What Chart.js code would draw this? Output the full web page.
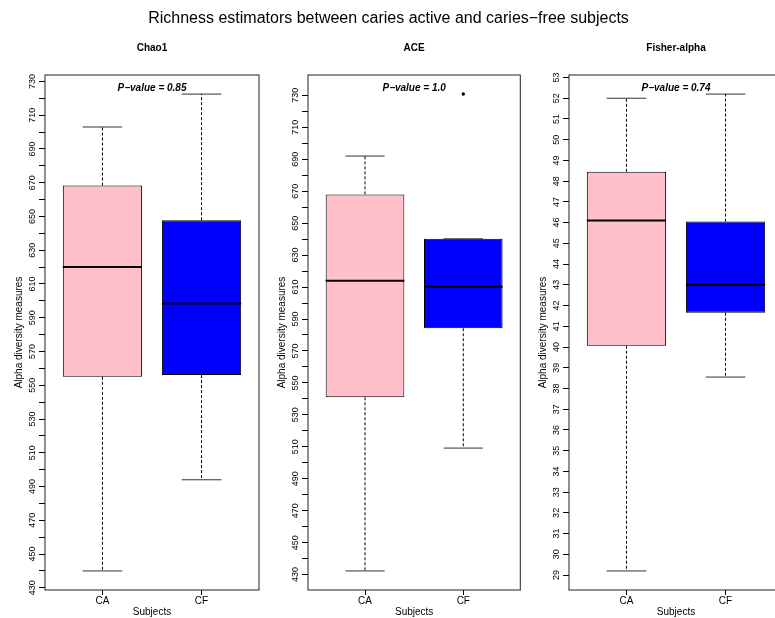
<!DOCTYPE html>
<html>
<head>
<meta charset="utf-8">
<script src="https://cdn.jsdelivr.net/npm/chart.js@4.4.1/dist/chart.umd.min.js"></script>
<style>
  html, body { margin:0; padding:0; overflow:hidden; background:#fff; width:775px; height:618px; }
  #wrap { position:relative; width:775px; height:618px; overflow:hidden; }
  #mainTitle { position:absolute; left:0; top:8px; width:777px; text-align:center; font:16px "Liberation Sans", Arial, Helvetica, sans-serif; line-height:20px; color:#000; z-index:2; }
  canvas { position:absolute; top:0; }
</style>
</head>
<body>
<div id="wrap">
  <div id="mainTitle">Richness estimators between caries active and caries−free subjects</div>
  <canvas id="c1" width="260" height="618" style="left:0px;width:260px;height:618px"></canvas>
  <canvas id="c2" width="259" height="618" style="left:263px;width:259px;height:618px"></canvas>
  <canvas id="c3" width="260" height="618" style="left:524px;width:260px;height:618px"></canvas>
</div>
<script>
// ---------------- data ----------------
const groups = ["CA", "CF"];
const panelTitles = ["Chao1", "ACE", "Fisher-alpha"];
const pValues = ["0.85", "1.0", "0.74"];
const xTitle = "Subjects";
const yTitle = "Alpha diversity measures";

// Chao1 (lower whisker, Q1, median, Q3, upper whisker) per group
const chao1Low    = [440, 494];
const chao1Q1     = [555, 556];
const chao1Median = [620, 598.5];
const chao1Q3     = [668.3, 647.8];
const chao1High   = [703, 722.5];
const chao1Outliers = [[], []];

// ACE
const aceLow    = [432.3, 509.2];
const aceQ1     = [541, 584.2];
const aceMedian = [614, 610.2];
const aceQ3     = [668, 640.2];
const aceHigh   = [692, 640.2];
const aceOutliers = [[], [730.8]];

// Fisher-alpha
const fisherLow    = [29.2, 38.55];
const fisherQ1     = [40.06, 41.65];
const fisherMedian = [46.1, 43.0];
const fisherQ3     = [48.45, 46.05];
const fisherHigh   = [52.0, 52.2];
const fisherOutliers = [[], []];

// tick values / labels
const richLabeledTicks = [430,450,470,490,510,530,550,570,590,610,630,650,670,690,710,730];
const richMinorTicks   = [440,460,480,500,520,540,560,580,600,620,640,660,680,700,720];
const fisherLabeledTicks = [29,30,31,32,33,34,35,36,37,38,39,40,41,42,43,44,45,46,47,48,49,50,51,52,53];
const fisherMinorTicks = [];

const boxColors = ["#FFC0CB", "#0000FF"];
// -------------------------------------

const FAMILY = '"Liberation Sans", Arial, Helvetica, sans-serif';
Chart.defaults.font.family = FAMILY;
Chart.defaults.color = '#000';

const framePlugin = {
  id: 'frame',
  afterDraw(chart, args, opts) {
    const {ctx, chartArea: a} = chart;
    ctx.save();
    ctx.strokeStyle = '#222';
    ctx.lineWidth = 1;
    ctx.strokeRect(a.left, a.top, a.right - a.left, a.bottom - a.top);
    ctx.font = 'italic bold 10px ' + FAMILY;
    ctx.fillStyle = '#000';
    ctx.textAlign = 'center';
    ctx.textBaseline = 'middle';
    ctx.fillText('P\u2212value = ' + opts.p, (a.left + a.right) / 2, a.top + 13);
    ctx.restore();
  }
};

function measure(text, font) {
  const c = document.createElement('canvas').getContext('2d');
  c.font = font;
  return c.measureText(text).width;
}

function makePanel(id, title, p, low, q1, med, q3, high, outliers, majors, minors) {
  const all = [].concat(low, high, ...outliers);
  const lo = Math.min(...all), hi = Math.max(...all);
  const ext = 0.04 * (hi - lo);
  const tickFontSize = 9;
  const widest = Math.max(...majors.map(v => measure(String(v), tickFontSize + 'px ' + FAMILY)));
  const tickLen = 6;
  const labelPad = 12 - tickLen - widest / 2;

  const seg = (pts, extra) => Object.assign({
    type: 'line', data: pts, pointRadius: 0, pointHoverRadius: 0,
    borderColor: '#000', borderWidth: 1, fill: false, tension: 0, order: 0
  }, extra || {});

  const datasets = [];
  datasets.push({
    type: 'bar',
    data: groups.map((g, i) => ({x: i + 1, y: [q1[i], q3[i]]})),
    backgroundColor: boxColors,
    borderColor: '#000',
    borderWidth: 1,
    borderSkipped: false,
    barPercentage: 1,
    categoryPercentage: 0.8,
    order: 2
  });
  groups.forEach((g, i) => {
    const x = i + 1;
    datasets.push(seg([{x, y: q3[i]}, {x, y: high[i]}], {borderDash: [3, 2]}));
    datasets.push(seg([{x, y: q1[i]}, {x, y: low[i]}], {borderDash: [3, 2]}));
    datasets.push(seg([{x: x - 0.2, y: high[i]}, {x: x + 0.2, y: high[i]}], {borderColor: '#333'}));
    datasets.push(seg([{x: x - 0.2, y: low[i]}, {x: x + 0.2, y: low[i]}], {borderColor: '#333'}));
    datasets.push(seg([{x: x - 0.4, y: med[i]}, {x: x + 0.4, y: med[i]}], {borderWidth: 2, borderCapStyle: 'butt'}));
  });
  const outPts = [];
  outliers.forEach((arr, i) => arr.forEach(v => outPts.push({x: i + 1, y: v})));
  datasets.push({
    type: 'scatter', data: outPts, pointRadius: 1.7, pointHoverRadius: 1.7,
    backgroundColor: '#000', borderColor: '#000', borderWidth: 0, order: 0
  });

  const tickVals = majors.concat(minors).sort((a, b) => a - b);

  return new Chart(document.getElementById(id), {
    type: 'bar',
    data: {datasets},
    plugins: [framePlugin],
    options: {
      responsive: false,
      animation: false,
      devicePixelRatio: 1,
      events: [],
      layout: {padding: {left: 0, right: 1, top: 0, bottom: 0}},
      plugins: {
        legend: {display: false},
        tooltip: {enabled: false},
        frame: {p},
        title: {
          display: true, text: title, fullSize: false, color: '#000',
          font: {size: 10, weight: 'bold', lineHeight: 1.2},
          padding: {top: 42, bottom: 21}
        }
      },
      scales: {
        x: {
          type: 'linear', min: 0.42, max: 2.58, offset: false,
          afterBuildTicks: s => { s.ticks = groups.map((g, i) => ({value: i + 1})); },
          ticks: {
            callback: v => groups[v - 1] !== undefined ? groups[v - 1] : '',
            font: {size: 10, lineHeight: 1}, color: '#000', padding: 1.5,
            autoSkip: false, maxRotation: 0, minRotation: 0
          },
          grid: {offset: false, drawOnChartArea: false, drawTicks: true, tickLength: 5, color: '#000'},
          border: {display: false},
          title: {display: true, text: xTitle, color: '#000', font: {size: 10, lineHeight: 1.2}, padding: {top: 0, bottom: 0}},
          afterFit: s => { s.height = 28; }
        },
        y: {
          type: 'linear', min: lo - ext, max: hi + ext,
          afterBuildTicks: s => { s.ticks = tickVals.map(v => ({value: v})); },
          ticks: {
            callback: v => majors.includes(v) ? String(v) : '',
            minRotation: 90, maxRotation: 90, crossAlign: 'center',
            padding: labelPad, autoSkip: false,
            font: {size: tickFontSize, lineHeight: 1.2}, color: '#000'
          },
          grid: {offset: false, drawOnChartArea: false, drawTicks: true, tickLength: tickLen, color: '#000'},
          border: {display: false},
          title: {display: true, text: yTitle, color: '#000', font: {size: 10, lineHeight: 1.2}, padding: {top: 13.5, bottom: 0}},
          afterFit: s => { s.width = 45; }
        }
      }
    }
  });
}

makePanel('c1', panelTitles[0], pValues[0], chao1Low, chao1Q1, chao1Median, chao1Q3, chao1High, chao1Outliers, richLabeledTicks, richMinorTicks);
makePanel('c2', panelTitles[1], pValues[1], aceLow, aceQ1, aceMedian, aceQ3, aceHigh, aceOutliers, richLabeledTicks, richMinorTicks);
makePanel('c3', panelTitles[2], pValues[2], fisherLow, fisherQ1, fisherMedian, fisherQ3, fisherHigh, fisherOutliers, fisherLabeledTicks, fisherMinorTicks);
</script>
</body>
</html>
